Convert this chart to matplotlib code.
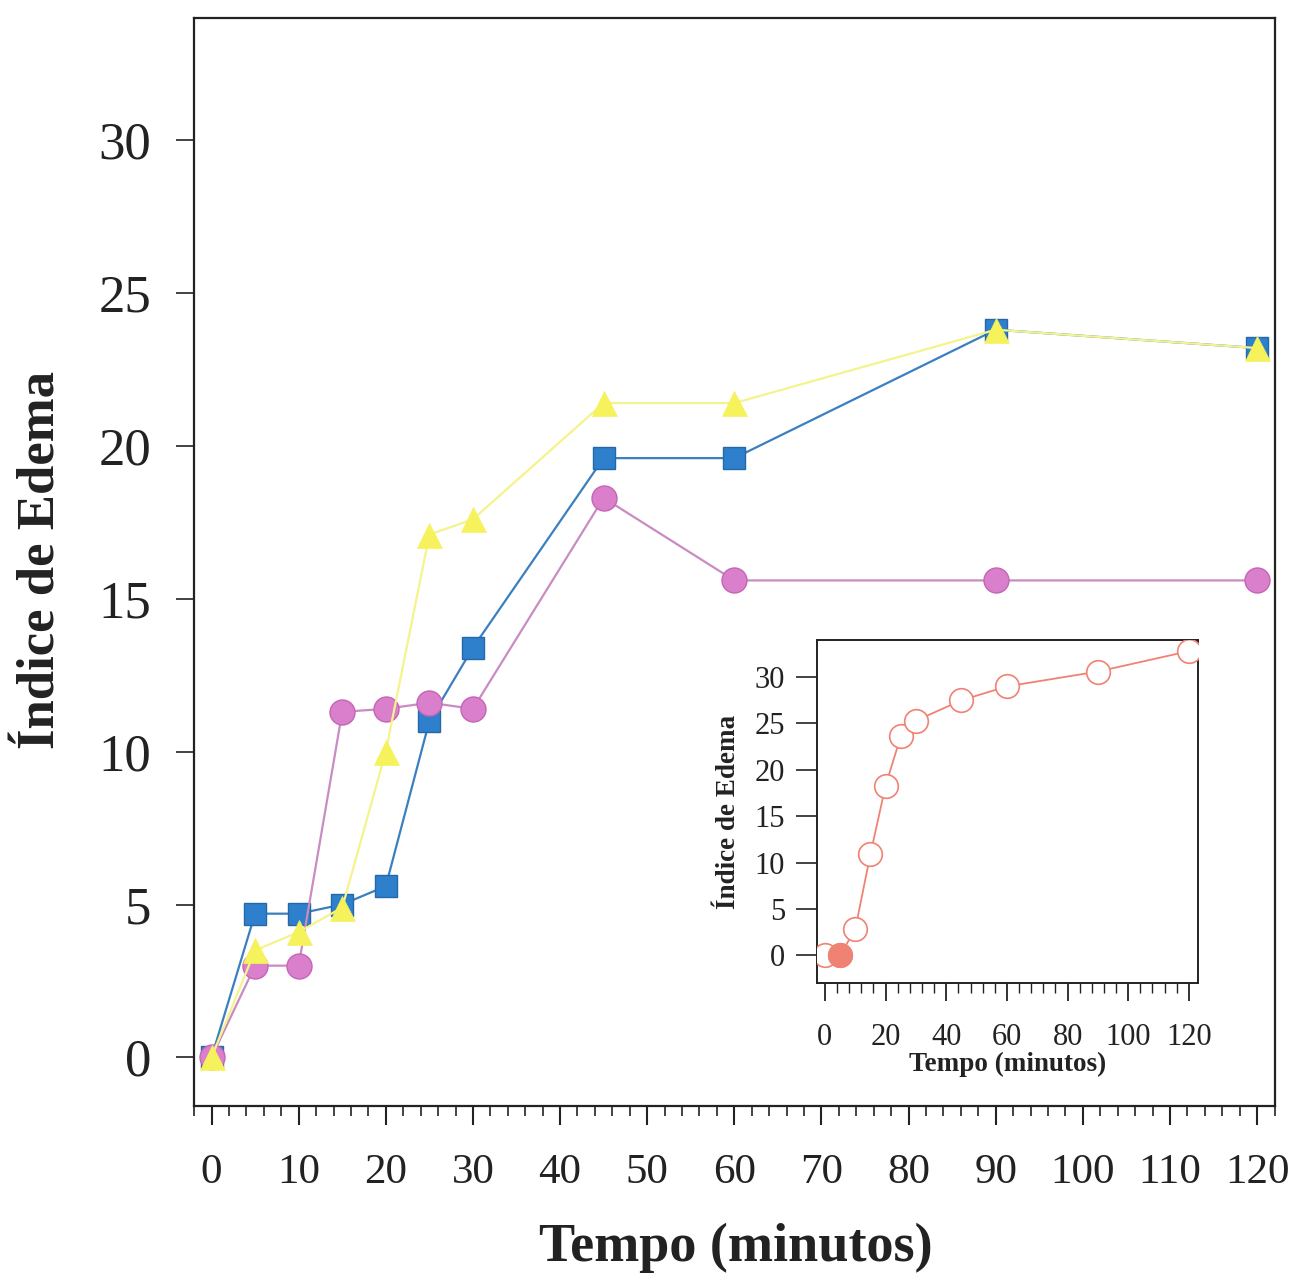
import matplotlib
matplotlib.use("Agg")
import matplotlib.pyplot as plt
from matplotlib.ticker import MultipleLocator

plt.rcParams["font.family"] = ["Liberation Serif", "DejaVu Serif"]

# ── data ─────────────────────────────────────────────────────────────────────
tempo = [0, 5, 10, 15, 20, 25, 30, 45, 60, 90, 120]

edema_quadrado = [0, 4.7, 4.7, 5.0, 5.6, 11.0, 13.4, 19.6, 19.6, 23.8, 23.2]
edema_circulo = [0, 3.0, 3.0, 11.3, 11.4, 11.6, 11.4, 18.3, 15.6, 15.6, 15.6]
edema_triangulo = [0, 3.5, 4.1, 4.9, 10.0, 17.1, 17.6, 21.4, 21.4, 23.8, 23.2]

# inset (controle)
inset_tempo = [0, 5, 10, 15, 20, 25, 30, 45, 60, 90, 120]
inset_edema = [0, 0, 2.8, 10.9, 18.3, 23.6, 25.3, 27.5, 29.0, 30.6, 32.8]

# ── colors ───────────────────────────────────────────────────────────────────
BLUE_FACE = "#2f80cc"
BLUE_EDGE = "#2468a8"
BLUE_LINE = "#3a7fc0"
PINK_FACE = "#d97fcb"
PINK_EDGE = "#c466b4"
PINK_LINE = "#c98cc2"
YELLOW_FACE = "#f6f25c"
YELLOW_LINE = "#f5f38c"
SALMON = "#f08274"
AXIS = "#222222"

fig = plt.figure(figsize=(12.94, 12.76), dpi=100)

# ── main axes ────────────────────────────────────────────────────────────────
ax = fig.add_axes([0.150, 0.133, 0.835, 0.853])

ax.plot(tempo, edema_quadrado, "-s", color=BLUE_LINE, lw=1.6, ms=16,
        mfc=BLUE_FACE, mec=BLUE_EDGE, mew=1.0, zorder=2)
ax.plot(tempo, edema_circulo, "-o", color=PINK_LINE, lw=1.6, ms=18,
        mfc=PINK_FACE, mec=PINK_EDGE, mew=1.0, zorder=3)
ax.plot(tempo, edema_triangulo, "-^", color=YELLOW_LINE, lw=1.6, ms=18,
        mfc=YELLOW_FACE, mec=YELLOW_FACE, mew=0.5, zorder=4)

ax.set_xlim(-2, 122)
ax.set_ylim(-1.6, 34)
ax.set_yticks([0, 5, 10, 15, 20, 25, 30])
ax.set_xticks(range(0, 121, 10))
ax.xaxis.set_minor_locator(MultipleLocator(2))
ax.tick_params(axis="y", direction="out", length=13, width=1.2,
               labelsize=38, pad=18, colors=AXIS)
ax.tick_params(axis="x", which="major", direction="out", length=14, width=1.5,
               labelsize=31, pad=20, colors=AXIS)
ax.tick_params(axis="x", which="minor", direction="out", length=7, width=1.2,
               colors=AXIS)
for s in ax.spines.values():
    s.set_linewidth(1.6)
    s.set_color(AXIS)

fig.text(0.032, 0.561, "Índice de Edema", rotation=90, ha="center",
         va="center", fontsize=38, fontweight="bold", color=AXIS)
fig.text(0.569, 0.022, "Tempo (minutos)", ha="center", va="center",
         fontsize=39, fontweight="bold", color=AXIS)

# ── inset ────────────────────────────────────────────────────────────────────
ins = fig.add_axes([0.6314, 0.2296, 0.2944, 0.2688])
ins.plot(inset_tempo, inset_edema, "-o", color=SALMON, lw=1.3, ms=17,
         mfc="white", mec=SALMON, mew=1.2, zorder=3)
# filled marker at t=5
ins.plot(inset_tempo[1], inset_edema[1], "o", ms=17, mfc=SALMON,
         mec=SALMON, zorder=4)

ins.set_xlim(-2.6, 123)
ins.set_ylim(-3, 34)
ins.set_yticks([0, 5, 10, 15, 20, 25, 30])
ins.set_xticks(range(0, 121, 20))
ins.xaxis.set_minor_locator(MultipleLocator(4))
ins.tick_params(axis="y", direction="out", length=15, width=1.2,
                labelsize=22, pad=8, colors=AXIS)
ins.tick_params(axis="x", which="major", direction="out", length=13, width=1.3,
                labelsize=22, pad=16, colors=AXIS)
ins.tick_params(axis="x", which="minor", direction="out", length=7, width=1.0,
                colors=AXIS)
for s in ins.spines.values():
    s.set_linewidth(1.4)
    s.set_color(AXIS)
ins.set_xlabel("Tempo (minutos)", fontsize=19.5, fontweight="bold",
               color=AXIS, labelpad=0)
ins.set_ylabel("Índice de Edema", fontsize=19.5, fontweight="bold",
               color=AXIS, labelpad=10)

fig.savefig("out.png", dpi=100, facecolor="white")
